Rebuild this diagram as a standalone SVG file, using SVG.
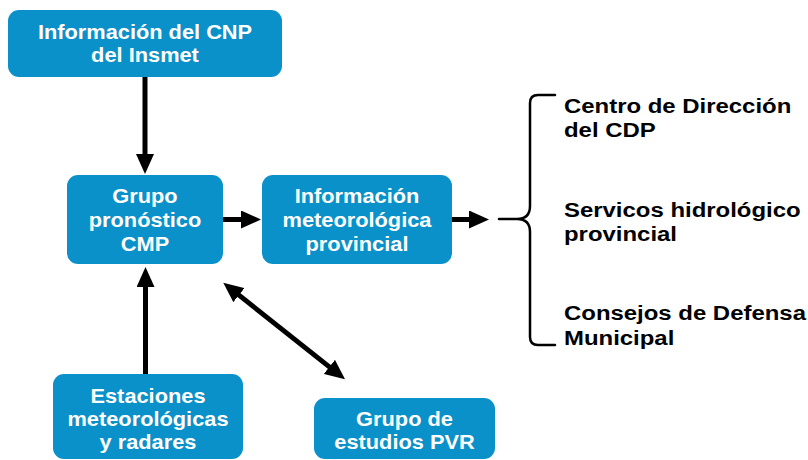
<svg xmlns="http://www.w3.org/2000/svg" width="808" height="460" viewBox="0 0 808 460">
<style>
.box{fill:#0A91C9;}
.bt{font-family:"Liberation Sans",Arial,sans-serif;font-weight:bold;font-size:20px;fill:#fff;text-anchor:middle;}
.rt{font-family:"Liberation Sans",Arial,sans-serif;font-weight:bold;font-size:21px;fill:#000;}
.conn{stroke:#000;stroke-width:5;fill:none;}
.brace{stroke:#000;stroke-width:2.5;fill:none;stroke-linecap:round;}
</style>
<defs>
<marker id="ah" markerUnits="userSpaceOnUse" markerWidth="20" markerHeight="18" viewBox="0 0 20 18" refX="10" refY="9" orient="auto-start-reverse">
<path d="M0,0 L20,9 L0,18 z" fill="#000"/>
</marker>
</defs>
<rect width="808" height="460" fill="#fff"/>
<g id="connectors">
<line class="conn" x1="145" y1="77" x2="145" y2="164" marker-end="url(#ah)"/>
<line class="conn" x1="223" y1="219.5" x2="251" y2="219.5" marker-end="url(#ah)"/>
<line class="conn" x1="452" y1="219.5" x2="479" y2="219.5" marker-end="url(#ah)"/>
<line class="conn" x1="145.5" y1="374" x2="145.5" y2="277" marker-end="url(#ah)"/>
<line class="conn" x1="231.1" y1="288.9" x2="337.2" y2="373.1" marker-start="url(#ah)" marker-end="url(#ah)"/>
</g>
<g id="n1">
<rect class="box" x="8" y="10" width="274" height="67" rx="11"/>
<g transform="matrix(1.09 0 0 1 145 0)"><text class="bt" x="0" y="39">Información del CNP</text><text class="bt" x="0" y="62">del Insmet</text></g>
</g>
<g id="n2">
<rect class="box" x="67" y="175" width="156" height="89" rx="11"/>
<g transform="matrix(1.09 0 0 1 145 0)"><text class="bt" x="0" y="203">Grupo</text><text class="bt" x="0" y="227">pronóstico</text><text class="bt" x="0" y="251">CMP</text></g>
</g>
<g id="n3">
<rect class="box" x="262" y="175" width="190" height="89" rx="11"/>
<g transform="matrix(1.09 0 0 1 357 0)"><text class="bt" x="0" y="203">Información</text><text class="bt" x="0" y="227">meteorológica</text><text class="bt" x="0" y="251">provincial</text></g>
</g>
<g id="n4">
<rect class="box" x="53" y="374" width="190" height="85" rx="11"/>
<g transform="matrix(1.09 0 0 1 148 0)"><text class="bt" x="0" y="403">Estaciones</text><text class="bt" x="0" y="426">meteorológicas</text><text class="bt" x="0" y="449">y radares</text></g>
</g>
<g id="n5">
<rect class="box" x="314" y="398" width="181" height="61" rx="11"/>
<g transform="matrix(1.09 0 0 1 404.5 0)"><text class="bt" x="0" y="426">Grupo de</text><text class="bt" x="0" y="449">estudios PVR</text></g>
</g>
<g id="brace">
<path class="brace" d="M555,95 L538,95 Q530,95 530,103 L530,206 Q530,219 517,219 L499,219 M517,219 Q530,219 530,232 L530,337 Q530,345 538,345 L555,345"/>
</g>
<g id="targets">
<g transform="matrix(1.14 0 0 1 564 0)">
<text class="rt" x="0" y="113">Centro de Dirección</text>
<text class="rt" x="0" y="137.5">del CDP</text>
<text class="rt" x="0" y="217">Servicos hidrológico</text>
<text class="rt" x="0" y="241.5">provincial</text>
<text class="rt" x="0" y="320">Consejos de Defensa</text>
<text class="rt" x="0" y="345">Municipal</text>
</g>
</g>
</svg>
